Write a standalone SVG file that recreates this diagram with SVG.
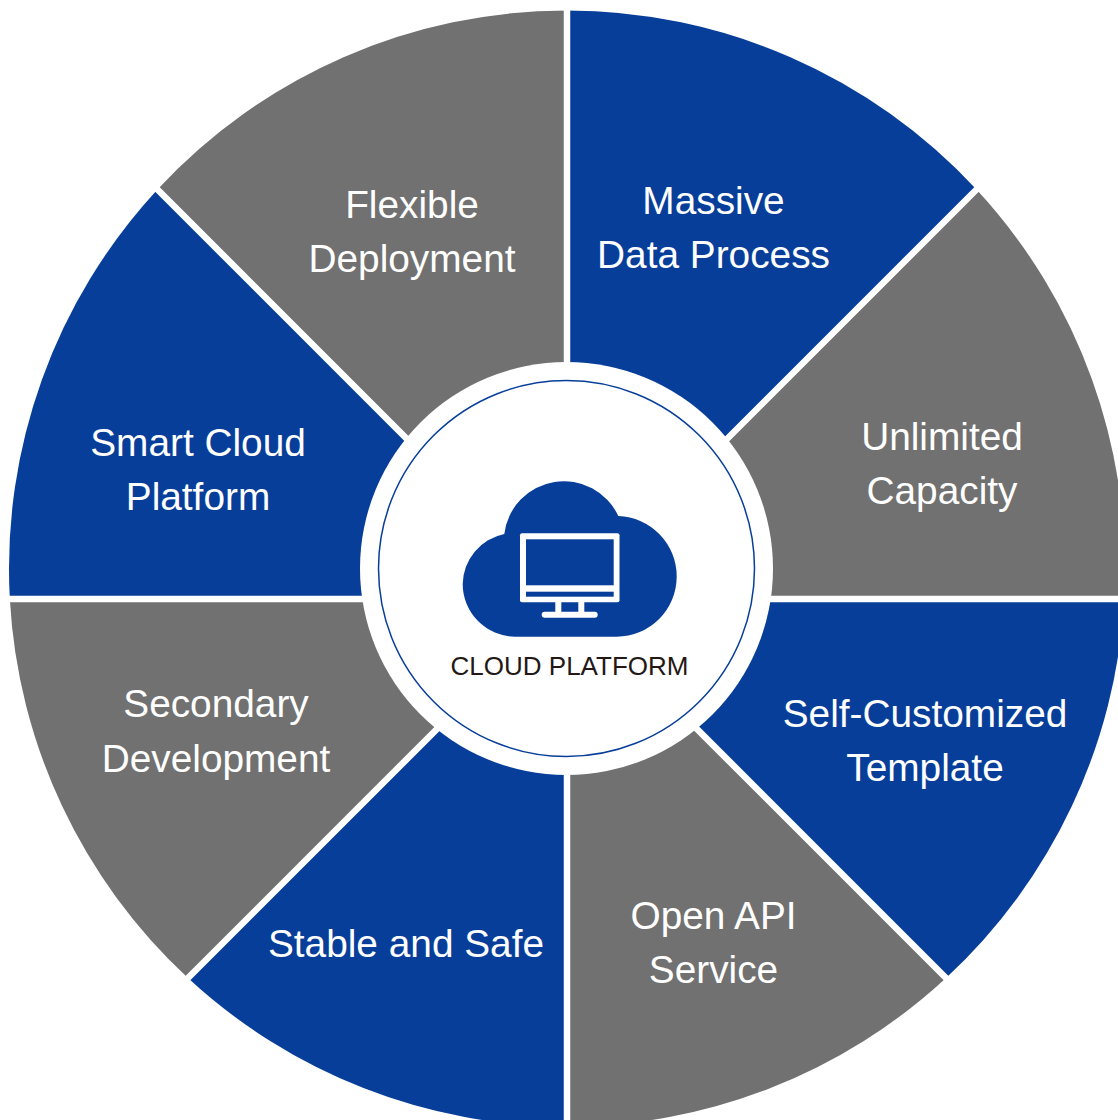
<svg xmlns="http://www.w3.org/2000/svg" width="1118" height="1120" viewBox="0 0 1118 1120">
<style>
.blue{fill:#073e9a}
.gray{fill:#717171}
.w{fill:#fff}
.label{font-family:"Liberation Sans",Arial,sans-serif;font-size:38.8px;fill:#fff;text-anchor:middle}
.gap{stroke:#fff;stroke-width:6.5;fill:none}
</style>
<rect width="1118" height="1120" fill="#fff"/>
<g id="massive-data-process">
<path class="blue" d="M567 599V10.500A558 558 0 0 1 976.52 189.48Z"/>
<text class="label" x="713.5" y="214">Massive</text>
<text class="label" x="713.5" y="268">Data Process</text>
</g>
<g id="unlimited-capacity">
<path class="gray" d="M567 599L976.52 189.48A558 558 0 0 1 1124.17 599Z"/>
<text class="label" x="942" y="450">Unlimited</text>
<text class="label" x="942" y="504">Capacity</text>
</g>
<g id="self-customized-template">
<path class="blue" d="M567 599H1124.17A558 558 0 0 1 946.02 978.02Z"/>
<text class="label" x="925" y="727">Self-Customized</text>
<text class="label" x="925" y="781">Template</text>
</g>
<g id="open-api-service">
<path class="gray" d="M567 599L946.02 978.02A558 558 0 0 1 567 1126.5Z"/>
<text class="label" x="713.5" y="929">Open API</text>
<text class="label" x="713.5" y="983">Service</text>
</g>
<g id="stable-and-safe">
<path class="blue" d="M567 599V1126.5A558 558 0 0 1 187.98 978.02Z"/>
<text class="label" x="406" y="957">Stable and Safe</text>
</g>
<g id="secondary-development">
<path class="gray" d="M567 599L187.98 978.02A558 558 0 0 1 9.83 599Z"/>
<text class="label" x="216" y="717">Secondary</text>
<text class="label" x="216" y="772">Development</text>
</g>
<g id="smart-cloud-platform">
<path class="blue" d="M567 599H9.830A558 558 0 0 1 157.48 189.48Z"/>
<text class="label" x="198" y="456">Smart Cloud</text>
<text class="label" x="198" y="510">Platform</text>
</g>
<g id="flexible-deployment">
<path class="gray" d="M567 599L157.48 189.48A558 558 0 0 1 567 10.5Z"/>
<text class="label" x="412" y="218">Flexible</text>
<text class="label" x="412" y="272">Deployment</text>
</g>
<g id="connectors">
<path class="gap" d="M567 0V1120M0 599H1118M140 172L967 999M167 999L994 172"/>
</g>
<g id="cloud-platform">
<circle class="w" cx="566.5" cy="568.5" r="206.5"/>
<circle cx="566.5" cy="568.5" r="188" fill="#fff" stroke="#073e9a" stroke-width="1.5"/>
<path class="blue" d="M504.3 534A60 60 0 0 1 618.3 516A60.5 60.5 0 0 1 676.7 576.5A60.2 60.2 0 0 1 616.7 636.7H515A52.7 52.7 0 0 1 462.7 584A52 52 0 0 1 504.3 534Z"/>
<rect class="w" x="520" y="533.3" width="99.5" height="69" rx="2"/>
<rect class="blue" x="526" y="539.3" width="87.7" height="46"/>
<rect class="blue" x="526" y="591.7" width="87.7" height="5"/>
<rect class="w" x="555.3" y="602" width="6" height="11"/>
<rect class="w" x="578.3" y="602" width="6" height="11"/>
<rect class="w" x="541.7" y="611.7" width="56" height="6" rx="3"/>
<text x="569.5" y="675" font-family="'Liberation Sans',Arial,sans-serif" font-size="26" fill="#231815" text-anchor="middle">CLOUD PLATFORM</text>
</g>
</svg>
